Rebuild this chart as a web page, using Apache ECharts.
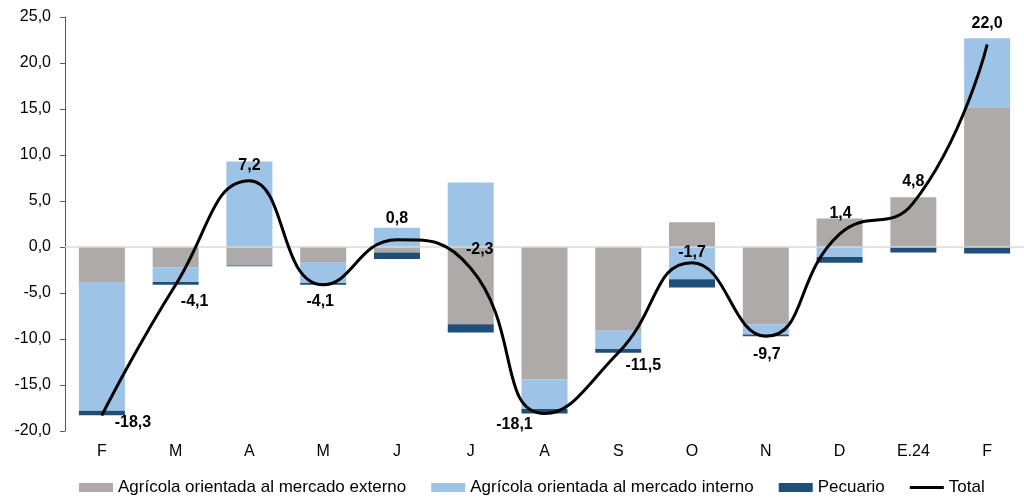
<!DOCTYPE html>
<html>
<head>
<meta charset="utf-8">
<script src="https://cdn.jsdelivr.net/npm/echarts@6/dist/echarts.min.js"></script>
<style>
html,body{margin:0;padding:0;background:#fff;}
#chart{width:1024px;height:497px;}
</style>
</head>
<body>
<div id="chart"></div>
<script>
const categories = ['F','M','A','M','J','J','A','S','O','N','D','E.24','F'];
const externo  = [-3.8,-2.2,-2.0,-1.7,-0.6,-8.4,-14.4,-9.1,2.7,-8.4,3.1,5.4,15.2];
const interno  = [-14.0,-1.6,9.3,-2.2,2.1,7.0,-3.2,-2.0,-3.5,-1.1,-1.1,0,7.5];
const pecuario = [-0.5,-0.3,-0.1,-0.2,-0.7,-0.9,-0.5,-0.4,-0.9,-0.2,-0.6,-0.6,-0.7];
const total    = [-18.3,-4.1,7.2,-4.1,0.8,-2.3,-18.1,-11.5,-1.7,-9.7,1.4,4.8,22.0];
const seriesNames = ['Agrícola orientada al mercado externo','Agrícola orientada al mercado interno','Pecuario','Total'];

// label offsets (px) for the total labels
const labelOffsets = [[31,7],[19,17],[0,-15],[-3,17],[0,-21],[9,-19],[-30,11],[25,13],[0,-10],[1,18],[1,-21],[0,-21],[0,-21]];

const FONT = '"Liberation Sans", Arial, sans-serif';
const fmt = v => v.toFixed(1).replace('.', ',');

const chart = echarts.init(document.getElementById('chart'));
chart.setOption({
  animation: false,
  textStyle: {fontFamily: FONT},
  grid: {left: 65, top: 17, width: 971, height: 414},
  legend: {
    left: 74, top: 474, itemWidth: 34, itemHeight: 9, itemGap: 25,
    textStyle: {fontFamily: FONT, fontSize: 17, color: '#000'},
    data: [
      {name: seriesNames[0], icon: 'rect'},
      {name: seriesNames[1], icon: 'rect'},
      {name: seriesNames[2], icon: 'rect'},
      {name: seriesNames[3], icon: 'path://M0 0 H34 V3 H0 Z', itemStyle: {color: '#000'}}
    ]
  },
  xAxis: {
    type: 'category',
    data: categories,
    axisLine: {show: false},
    axisTick: {show: false},
    axisLabel: {fontFamily: FONT, fontSize: 16, color: '#000', margin: 13}
  },
  yAxis: {
    type: 'value',
    min: -20, max: 25, interval: 5,
    axisLine: {show: true, lineStyle: {color: '#595959', width: 1}},
    axisTick: {show: true, length: 5, lineStyle: {color: '#595959'}},
    splitLine: {show: false},
    axisLabel: {fontFamily: FONT, fontSize: 16, color: '#000', margin: 14, formatter: fmt}
  },
  series: [
    {
      name: seriesNames[0], type: 'bar', stack: 'a', barWidth: 46,
      data: externo, itemStyle: {color: '#AEAAAA'},
      markLine: {
        silent: true, symbol: 'none', label: {show: false},
        lineStyle: {color: '#D9D9D9', width: 1.5, type: 'solid'},
        data: [{yAxis: 0}]
      }
    },
    {
      name: seriesNames[1], type: 'bar', stack: 'a', barWidth: 46,
      data: interno, itemStyle: {color: '#9DC3E6'}
    },
    {
      name: seriesNames[2], type: 'bar', stack: 'a', barWidth: 46,
      data: pecuario, itemStyle: {color: '#1F4E79'}
    },
    {
      name: seriesNames[3], type: 'line', smooth: true, z: 5,
      symbol: 'circle', symbolSize: 1, showSymbol: true,
      itemStyle: {color: '#000'},
      lineStyle: {color: '#000', width: 3},
      data: total.map((v, i) => ({
        value: v,
        label: {
          show: true, position: 'inside', offset: labelOffsets[i],
          formatter: p => fmt(p.value),
          fontFamily: FONT, fontSize: 16, fontWeight: 'bold', color: '#000'
        }
      }))
    }
  ]
});
</script>
</body>
</html>
